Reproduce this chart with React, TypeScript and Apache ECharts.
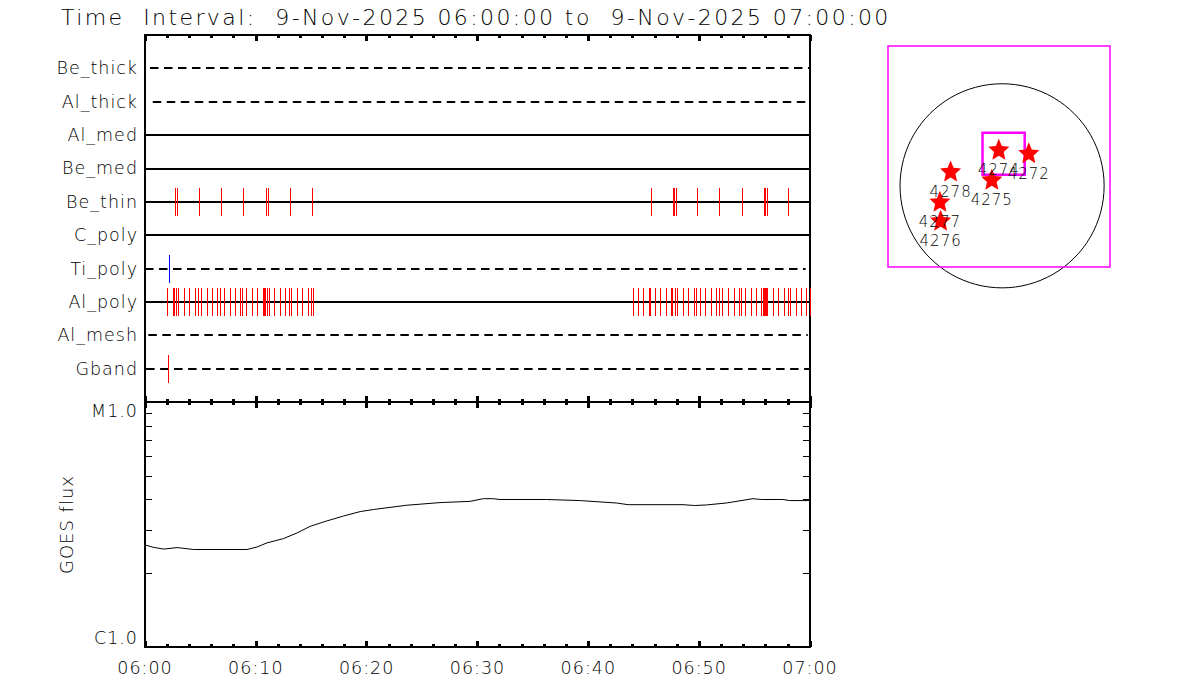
import React, { useEffect, useRef } from "react";
import * as echarts from "echarts";

const titleText = "Time  Interval:  9-Nov-2025 06:00:00 to  9-Nov-2025 07:00:00";
const timeLabels = ["06:00", "06:10", "06:20", "06:30", "06:40", "06:50", "07:00"];
// row 10 (top) to row 1 (bottom)
const instruments = ["Be_thick", "Al_thick", "Al_med", "Be_med", "Be_thin", "C_poly", "Ti_poly", "Al_poly", "Al_mesh", "Gband"];
const rowIsDashed = [1, 1, 0, 0, 0, 0, 1, 0, 1, 1];
const rowStart = [0.45, 0.7, 0, 0, 0, 0, 0, 0, 0.3, 0.1];
const rowEnd = [60, 59.6, 60, 60, 60, 60, 59.6, 60, 59.8, 60];

const beThinTimes = [2.79, 2.97, 4.95, 6.94, 8.92, 10.99, 11.17, 13.15, 15.14, 45.68, 47.66, 47.75, 47.93, 49.82, 51.8, 53.87, 55.86, 55.95, 56.13, 58.02];
const tiPolyTimes = [2.25];
const gbandTimes = [2.16];
const alPolyTimes = [
  2.07, 2.61, 2.7, 2.88, 3.06, 3.6, 4.05, 4.59, 4.86, 5.14, 5.68, 6.13, 6.58, 6.85, 7.21, 7.75, 8.2, 8.65, 8.83, 9.19, 9.73, 10.18,
  10.72, 10.81, 10.9, 11.08, 11.26, 11.71, 12.25, 12.7, 13.06, 13.24, 13.78, 14.23, 14.77, 15.05, 15.23,
  44.05, 44.5, 44.95, 45.5, 45.59, 46.04, 46.49, 47.03, 47.48, 47.57, 47.84, 48.02, 48.56, 49.01, 49.55, 49.73, 50.09, 50.54, 51.08,
  51.53, 51.8, 52.07, 52.61, 53.15, 53.6, 53.78, 54.14, 54.68, 55.14, 55.59, 55.77, 55.86, 55.95, 56.04, 56.13, 56.67, 57.12, 57.66,
  58.02, 58.2, 58.74, 59.19, 59.64, 60,
];

const goesMinutes = [0, 0.79, 1.69, 2.9, 4.4, 9.21, 10.11, 11.01, 12.5, 13.71, 14.91, 16.41, 17.91, 19.41, 20.61, 23.62, 26.62, 29.32, 30.52, 31.42, 32.03, 36.23, 39.23, 42.54, 43.59, 48.54, 49.59, 50.65, 52.45, 54.85, 55.6, 57.55, 58.15, 60];
const goesFlux = [2.61, 2.55, 2.51, 2.545, 2.5, 2.5, 2.56, 2.66, 2.77, 2.92, 3.11, 3.27, 3.425, 3.57, 3.64, 3.79, 3.885, 3.93, 4.03, 4.03, 4.0, 4.0, 3.96, 3.87, 3.81, 3.81, 3.78, 3.8, 3.87, 4.03, 4.0, 4.0, 3.96, 3.96];
const goesMinorTicks = [2, 3, 4, 5, 6, 7, 8, 9];

const regionNames = ["4274", "4272", "4275", "4278", "4277", "4276"];
const regionX = [-31, 255, -98, -492, -594, -587];
const regionY = [348, 316, 62, 141, -148, -329];
const solarRadius = 975;
const outerBox = [-1090, -774, 1031, 1333];
const innerBox = [-187, 106, 216, 506];

const STAR = "path://M0,-10L2.7,-3.72L9.51,-3.09L4.37,1.42L5.88,8.09L0,4.6L-5.88,8.09L-4.37,1.42L-9.51,-3.09L-2.7,-3.72Z";
const FONT = "DejaVu Sans";
const WEIGHT = 200;
const RED = "#ff0000";
const BLUE = "#0000ff";

const tickRenderer = (params: any, api: any) => {
  const p = api.coord([api.value(0), api.value(1)]);
  const x = Math.round(p[0] - 0.5) + 0.5;
  const y = Math.round(p[1] + 0.05);
  return {
    type: "line",
    shape: { x1: x, y1: y - 14, x2: x, y2: y + 14 },
    style: { stroke: api.visual("color"), lineWidth: 1 },
  };
};

const rowRenderer = (params: any, api: any) => {
  const a = api.coord([api.value(0), api.value(2)]);
  const b = api.coord([api.value(1), api.value(2)]);
  const y = Math.round(a[1] + 0.05);
  return {
    type: "line",
    shape: { x1: a[0], y1: y, x2: b[0], y2: y },
    style: { stroke: "#000", lineWidth: 2, lineDash: api.value(3) ? [8.5, 5.5] : null },
  };
};

const minorRenderer = (params: any, api: any) => {
  const a = api.coord([0, api.value(1)]);
  const b = api.coord([60, api.value(1)]);
  const y = Math.round(a[1]) + 0.5;
  return {
    type: "group",
    children: [
      { type: "line", shape: { x1: a[0], y1: y, x2: a[0] + 7, y2: y }, style: { stroke: "#000", lineWidth: 1 } },
      { type: "line", shape: { x1: b[0], y1: y, x2: b[0] - 7, y2: y }, style: { stroke: "#000", lineWidth: 1 } },
    ],
  };
};

const boxRenderer = (params: any, api: any) => {
  const a = api.coord([api.value(0), api.value(3)]);
  const b = api.coord([api.value(2), api.value(1)]);
  return {
    type: "rect",
    shape: { x: a[0], y: a[1], width: b[0] - a[0], height: b[1] - a[1] },
    style: { fill: "none", stroke: "#ff00ff", lineWidth: api.value(4) },
  };
};

const diskRenderer = (params: any, api: any) => {
  const c = api.coord([0, 0]);
  const e = api.coord([api.value(0), 0]);
  return {
    type: "circle",
    shape: { cx: c[0], cy: c[1], r: e[0] - c[0] },
    style: { fill: "none", stroke: "#000", lineWidth: 1 },
  };
};

function makeOption() {
  const axisLine = { show: true, onZero: false, lineStyle: { color: "#000", width: 2 } };
  const timeAxis = (gridIndex: number, position: string, labels: boolean) => ({
    type: "value",
    gridIndex,
    position,
    min: 0,
    max: 60,
    interval: 10,
    axisLine,
    axisTick: { show: true, inside: true, length: 6, lineStyle: { color: "#000", width: 3 } },
    minorTick: { show: true, splitNumber: 5, length: 3, lineStyle: { color: "#000", width: 3 } },
    splitLine: { show: false },
    minorSplitLine: { show: false },
    axisLabel: labels
      ? { show: true, margin: 12, color: "#000", fontFamily: FONT, fontWeight: WEIGHT, fontSize: 17.5, formatter: (v: number) => timeLabels[Math.round(v / 10)] }
      : { show: false },
  });
  const tickSeries = (name: string, times: number[], color: string) => ({
    type: "custom",
    name,
    xAxisIndex: 0,
    yAxisIndex: 0,
    z: 5,
    itemStyle: { color },
    renderItem: tickRenderer,
    encode: { x: 0, y: 1 },
    data: times.map((t) => [t, 10 - instruments.indexOf(name)]),
  });

  return {
    animation: false,
    backgroundColor: "#fff",
    title: {
      text: titleText,
      left: 56,
      top: 1,
      textStyle: { color: "#000", fontFamily: FONT, fontSize: 22, fontWeight: WEIGHT },
    },
    grid: [
      { left: 145, top: 35, width: 665, height: 367, show: false },
      { left: 145, top: 402, width: 665, height: 245, show: false },
      { left: 888, top: 46, width: 222, height: 221, show: false },
    ],
    xAxis: [
      timeAxis(0, "top", false),
      timeAxis(0, "bottom", false),
      timeAxis(1, "top", false),
      timeAxis(1, "bottom", true),
      { type: "value", gridIndex: 2, min: outerBox[0], max: outerBox[2], show: false },
    ],
    yAxis: [
      {
        type: "value",
        gridIndex: 0,
        position: "left",
        min: 0,
        max: 11,
        interval: 1,
        axisLine,
        axisTick: { show: false },
        splitLine: { show: false },
        axisLabel: {
          margin: 7,
          color: "#000",
          fontFamily: FONT,
          fontWeight: WEIGHT,
          fontSize: 17.5,
          formatter: (v: number) => instruments[10 - v] ?? "",
        },
      },
      { type: "value", gridIndex: 0, position: "right", min: 0, max: 11, interval: 1, axisLine, axisTick: { show: false }, axisLabel: { show: false }, splitLine: { show: false } },
      {
        type: "log",
        logBase: 10,
        gridIndex: 1,
        position: "left",
        min: 1,
        max: 10,
        axisLine,
        axisTick: { show: false },
        minorTick: { show: false },
        splitLine: { show: false },
        minorSplitLine: { show: false },
        name: "GOES flux",
        nameLocation: "middle",
        nameGap: 70,
        nameRotate: 90,
        nameTextStyle: { color: "#000", fontFamily: FONT, fontWeight: WEIGHT, fontSize: 18 },
        axisLabel: {
          margin: 7,
          color: "#000",
          fontFamily: FONT,
          fontWeight: WEIGHT,
          fontSize: 17.5,
          verticalAlignMinLabel: "bottom",
          verticalAlignMaxLabel: "top",
          formatter: (v: number) => (v < 5 ? "C1.0" : "M1.0"),
        },
      },
      { type: "log", logBase: 10, gridIndex: 1, position: "right", min: 1, max: 10, axisLine, axisTick: { show: false }, minorTick: { show: false }, axisLabel: { show: false }, splitLine: { show: false } },
      { type: "value", gridIndex: 2, min: outerBox[1], max: outerBox[3], show: false },
    ],
    series: [
      {
        type: "custom",
        name: "rows",
        xAxisIndex: 0,
        yAxisIndex: 0,
        renderItem: rowRenderer,
        encode: { x: [0, 1], y: 2 },
        data: instruments.map((n, i) => [rowStart[i], rowEnd[i], 10 - i, rowIsDashed[i]]),
      },
      tickSeries("Be_thin", beThinTimes, RED),
      tickSeries("Ti_poly", tiPolyTimes, BLUE),
      tickSeries("Al_poly", alPolyTimes, RED),
      tickSeries("Gband", gbandTimes, RED),
      {
        type: "line",
        name: "GOES",
        xAxisIndex: 3,
        yAxisIndex: 2,
        showSymbol: false,
        symbol: "none",
        lineStyle: { color: "#000", width: 1 },
        data: goesMinutes.map((m, i) => [m, goesFlux[i]]),
      },
      {
        type: "custom",
        name: "fluxTicks",
        xAxisIndex: 3,
        yAxisIndex: 2,
        renderItem: minorRenderer,
        encode: { y: 1 },
        data: goesMinorTicks.map((v) => [0, v]),
      },
      {
        type: "custom",
        name: "disk",
        xAxisIndex: 4,
        yAxisIndex: 4,
        renderItem: diskRenderer,
        data: [[solarRadius, 0]],
      },
      {
        type: "custom",
        name: "boxes",
        xAxisIndex: 4,
        yAxisIndex: 4,
        renderItem: boxRenderer,
        data: [
          [...outerBox, 1.5],
          [...innerBox, 2.5],
        ],
      },
      {
        type: "scatter",
        name: "regions",
        xAxisIndex: 4,
        yAxisIndex: 4,
        symbol: STAR,
        symbolSize: [21, 21],
        symbolKeepAspect: false,
        z: 6,
        itemStyle: { color: RED, opacity: 1 },
        label: {
          show: true,
          position: "inside",
          offset: [0, 21],
          color: "#000",
          fontFamily: FONT,
          fontWeight: WEIGHT,
          fontSize: 15,
          formatter: (p: any) => regionNames[p.dataIndex],
        },
        data: regionX.map((x, i) => [x, regionY[i]]),
      },
    ],
  };
}

const css = `text[style*="22px"]{letter-spacing:2.4px}`;

export default function App() {
  const ref = useRef<HTMLDivElement>(null);
  useEffect(() => {
    document.body.style.margin = "0";
    const chart = echarts.init(ref.current!, null, { renderer: "svg" });
    chart.setOption(makeOption() as any);
    return () => chart.dispose();
  }, []);
  return (
    <>
      <style>{css}</style>
      <div ref={ref} style={{ width: 1200, height: 700, letterSpacing: "1px" }} />
    </>
  );
}
